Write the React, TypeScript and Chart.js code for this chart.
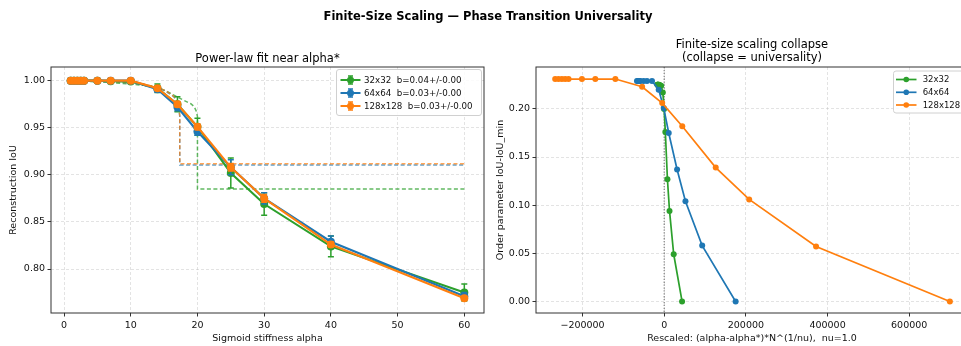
import React, { useEffect, useRef } from "react";
import { Chart, registerables } from "chart.js";
Chart.register(...registerables);

const FONT = '"DejaVu Sans", "Liberation Sans", sans-serif';

// ---------------- data ----------------
const sizeLabels = ["32x32", "64x64", "128x128"];
const fitLabels = ["32x32  b=0.04+/-0.00", "64x64  b=0.03+/-0.00", "128x128  b=0.03+/-0.00"];
const seriesColors = ["#2ca02c", "#1f77b4", "#ff7f0e"];
const fitColors = ["rgba(44,160,44,0.75)", "rgba(31,119,180,0.7)", "rgba(255,127,14,0.7)"];

const alphaValues = [1, 1.5, 2, 2.5, 3, 5, 7, 10, 14, 17, 20, 25, 30, 40, 60];
const iou32 = [1.0, 1.0, 1.0, 1.0, 1.0, 1.0, 0.9995, 0.999, 0.992, 0.975, 0.951, 0.902, 0.869, 0.824, 0.775];
const iou64 = [1.0, 1.0, 1.0, 1.0, 1.0, 1.0, 1.0, 1.0, 0.991, 0.972, 0.946, 0.908, 0.875, 0.829, 0.771];
const iou128 = [1.0, 1.0, 1.0, 1.0, 1.0, 1.0, 1.0, 1.0, 0.992, 0.975, 0.951, 0.908, 0.875, 0.826, 0.769];
const err32 = [0, 0, 0, 0, 0, 0, 0, 0.001, 0.0045, 0.008, 0.009, 0.016, 0.012, 0.011, 0.009];
const err64 = [0, 0, 0, 0, 0, 0, 0, 0, 0.003, 0.004, 0.004, 0.008, 0.006, 0.006, 0.004];
const err128 = [0, 0, 0, 0, 0, 0, 0, 0, 0.002, 0.003, 0.003, 0.004, 0.004, 0.003, 0.002];

// dashed power-law fit curves
const fit32X = [1, 4, 7, 10, 12, 14, 15, 16, 17, 18, 19, 19.5, 19.8, 20, 20, 60];
const fit32Y = [0.9995, 0.999, 0.998, 0.9965, 0.995, 0.9926, 0.99, 0.9865, 0.9825, 0.979, 0.9755, 0.9725, 0.968, 0.962, 0.885, 0.885];
const fit64X = [1, 5, 8, 10, 12, 14, 15, 16, 16.5, 17, 17.2, 17.35, 17.35, 60];
const fit64Y = [0.9998, 0.9993, 0.9985, 0.9975, 0.996, 0.9925, 0.9895, 0.9855, 0.9825, 0.977, 0.971, 0.962, 0.9104, 0.9104];
const fit128X = [1, 5, 8, 10, 12, 14, 15, 16, 16.5, 17, 17.2, 17.35, 17.35, 60];
const fit128Y = [1.0, 0.9995, 0.9987, 0.9978, 0.9962, 0.9928, 0.99, 0.986, 0.983, 0.978, 0.972, 0.963, 0.9118, 0.9118];

// collapse plot: rescaled x and order parameter
const rescaled32 = [-16690, -16180, -15670, -15155, -14640, -12595, -10545, -7475, -3380, -307, 2765, 7885, 13005, 23245, 43725];
const rescaled64 = [-66765, -64717, -62669, -60621, -58573, -50381, -42189, -29901, -13517, -1229, 11059, 31539, 52019, 92979, 174899];
const rescaled128 = [-267060, -258870, -250680, -242490, -234300, -201520, -168760, -119600, -54070, -4915, 44237, 126160, 208080, 371920, 699600];
const order32 = [0.225, 0.225, 0.225, 0.225, 0.225, 0.225, 0.2245, 0.224, 0.217, 0.2, 0.176, 0.127, 0.094, 0.049, 0];
const order64 = [0.229, 0.229, 0.229, 0.229, 0.229, 0.229, 0.229, 0.229, 0.22, 0.201, 0.175, 0.137, 0.104, 0.058, 0];
const order128 = [0.231, 0.231, 0.231, 0.231, 0.231, 0.231, 0.231, 0.231, 0.223, 0.206, 0.182, 0.139, 0.106, 0.057, 0];

const leftXTicks = [0, 10, 20, 30, 40, 50, 60];
const leftYTicks = [0.8, 0.85, 0.9, 0.95, 1.0];
const rightXTicks = [-200000, 0, 200000, 400000, 600000];
const rightYTicks = [0, 0.05, 0.1, 0.15, 0.2];

// ---------------- helpers ----------------
const pts = (xs: number[], ys: number[]) => xs.map((x, i) => ({ x, y: ys[i] }));

const errorBarPlugin = {
  id: "errorBars",
  beforeDatasetDraw(chart: any, args: any) {
    const ds: any = chart.data.datasets[args.index];
    if (!ds.errorValues) return;
    const ys = chart.scales.y;
    const ctx = chart.ctx;
    ctx.save();
    ctx.strokeStyle = ds.borderColor;
    ctx.lineWidth = 1.5;
    args.meta.data.forEach((el: any, i: number) => {
      const e = ds.errorValues[i];
      if (!e) return;
      const v = ds.data[i].y;
      const x = el.x;
      const y1 = ys.getPixelForValue(v - e);
      const y2 = ys.getPixelForValue(v + e);
      ctx.beginPath();
      ctx.moveTo(x, y1);
      ctx.lineTo(x, y2);
      ctx.moveTo(x - 3, y1);
      ctx.lineTo(x + 3, y1);
      ctx.moveTo(x - 3, y2);
      ctx.lineTo(x + 3, y2);
      ctx.stroke();
    });
    ctx.restore();
  },
};

const framePlugin = {
  id: "frame",
  afterDatasetsDraw(chart: any) {
    const { ctx, chartArea: a } = chart;
    ctx.save();
    ctx.strokeStyle = "#333";
    ctx.lineWidth = 1;
    ctx.strokeRect(a.left, a.top, a.right - a.left, a.bottom - a.top);
    ctx.restore();
  },
};

const zeroLinePlugin = {
  id: "zeroLine",
  beforeDatasetsDraw(chart: any) {
    const { ctx, chartArea: a } = chart;
    const x = chart.scales.x.getPixelForValue(0);
    ctx.save();
    ctx.strokeStyle = "#808080";
    ctx.lineWidth = 1.2;
    ctx.setLineDash([1.3, 1.6]);
    ctx.beginPath();
    ctx.moveTo(x, a.top);
    ctx.lineTo(x, a.bottom);
    ctx.stroke();
    ctx.restore();
  },
};

function makeLegend(cfg: any) {
  return {
    id: "boxLegend",
    afterDraw(chart: any) {
      const ctx = chart.ctx;
      ctx.save();
      const { left, top, right, bottom } = cfg.box;
      const r = 2.5;
      ctx.beginPath();
      ctx.moveTo(left + r, top);
      ctx.lineTo(right - r, top);
      ctx.quadraticCurveTo(right, top, right, top + r);
      ctx.lineTo(right, bottom - r);
      ctx.quadraticCurveTo(right, bottom, right - r, bottom);
      ctx.lineTo(left + r, bottom);
      ctx.quadraticCurveTo(left, bottom, left, bottom - r);
      ctx.lineTo(left, top + r);
      ctx.quadraticCurveTo(left, top, left + r, top);
      ctx.closePath();
      ctx.fillStyle = "rgba(255,255,255,0.85)";
      ctx.fill();
      ctx.strokeStyle = "#d0d0d0";
      ctx.lineWidth = 1;
      ctx.stroke();
      ctx.font = `${cfg.fontSize}px ${FONT}`;
      ctx.textBaseline = "middle";
      cfg.labels.forEach((label: string, i: number) => {
        const y = cfg.rowY[i];
        const color = cfg.colors[i];
        const mid = (cfg.hx0 + cfg.hx1) / 2;
        ctx.strokeStyle = color;
        ctx.lineWidth = cfg.lineWidth;
        ctx.beginPath();
        ctx.moveTo(cfg.hx0, y);
        ctx.lineTo(cfg.hx1, y);
        ctx.stroke();
        if (cfg.errorBars) {
          ctx.lineWidth = 1.5;
          ctx.beginPath();
          ctx.moveTo(mid, y - 4);
          ctx.lineTo(mid, y + 4);
          ctx.moveTo(mid - 2.5, y - 4);
          ctx.lineTo(mid + 2.5, y - 4);
          ctx.moveTo(mid - 2.5, y + 4);
          ctx.lineTo(mid + 2.5, y + 4);
          ctx.stroke();
        }
        ctx.fillStyle = color;
        ctx.beginPath();
        ctx.arc(mid, y, cfg.radius, 0, Math.PI * 2);
        ctx.fill();
        ctx.fillStyle = "#111";
        ctx.fillText(label, cfg.textX, y + 0.5);
      });
      ctx.restore();
    },
  };
}

function axisCommon(ticksArr: number[], fmt: (v: number) => string, titleText: string, isX: boolean, fixedSize: number, titlePad: any) {
  return {
    type: "linear",
    afterBuildTicks: (s: any) => {
      s.ticks = ticksArr.map((v) => ({ value: v }));
    },
    afterFit: (s: any) => {
      if (isX) s.height = fixedSize;
      else s.width = fixedSize;
    },
    grid: {
      color: "rgba(176,176,176,0.45)",
      lineWidth: 0.8,
      tickColor: "#333",
      tickLength: 3.5,
      tickWidth: 1,
      drawTicks: true,
    },
    border: { display: false, dash: [3, 2] },
    ticks: {
      font: { size: 9.5, family: FONT },
      color: "#111",
      padding: isX ? 3 : 2.5,
      maxRotation: 0,
      autoSkip: false,
      callback: (v: any) => fmt(Number(v)),
    },
    title: {
      display: true,
      text: titleText,
      font: { size: 9.5, family: FONT },
      color: "#111",
      padding: titlePad,
    },
  };
}

function leftConfig(): any {
  const fits = [
    [fit32X, fit32Y],
    [fit64X, fit64Y],
    [fit128X, fit128Y],
  ];
  const ious = [iou32, iou64, iou128];
  const errs = [err32, err64, err128];
  const datasets: any[] = [];
  fits.forEach((f, i) => {
    datasets.push({
      data: pts(f[0], f[1]),
      borderColor: fitColors[i],
      borderWidth: 1.5,
      borderDash: [4, 2.5],
      pointRadius: 0,
      tension: 0,
      fill: false,
      order: 10 - i,
    });
  });
  ious.forEach((iou, i) => {
    datasets.push({
      data: pts(alphaValues, iou),
      errorValues: errs[i],
      borderColor: seriesColors[i],
      backgroundColor: seriesColors[i],
      borderWidth: 2.1,
      pointRadius: 4,
      pointBorderWidth: 0,
      pointBackgroundColor: seriesColors[i],
      tension: 0,
      fill: false,
      order: 3 - i,
    });
  });
  return {
    type: "line",
    data: { datasets },
    options: {
      animation: false,
      responsive: false,
      maintainAspectRatio: false,
      events: [],
      layout: { padding: { top: 67, right: 6, left: 0, bottom: 0 } },
      plugins: { legend: { display: false }, tooltip: { enabled: false }, title: { display: false } },
      scales: {
        x: { ...axisCommon(leftXTicks, (v) => String(v), "Sigmoid stiffness alpha", true, 33, { top: 0, bottom: 2 }), min: -1.95, max: 62.95 },
        y: { ...axisCommon(leftYTicks, (v) => v.toFixed(2), "Reconstruction IoU", false, 51, { top: 7.6, bottom: 0 }), min: 0.7533, max: 1.0145 },
      },
    },
    plugins: [
      errorBarPlugin,
      framePlugin,
      makeLegend({
        box: { left: 336.5, top: 69.5, right: 481.5, bottom: 115.5 },
        labels: fitLabels,
        colors: seriesColors,
        rowY: [80, 93, 106],
        hx0: 340.5,
        hx1: 360.5,
        textX: 364,
        fontSize: 8.7,
        lineWidth: 2,
        radius: 3.5,
        errorBars: true,
      }),
    ],
  };
}

function rightConfig(): any {
  const xs = [rescaled32, rescaled64, rescaled128];
  const ys = [order32, order64, order128];
  const datasets = xs.map((x, i) => ({
    data: pts(x, ys[i]),
    borderColor: seriesColors[i],
    backgroundColor: seriesColors[i],
    borderWidth: 1.7,
    pointRadius: 3,
    pointBorderWidth: 0,
    pointBackgroundColor: seriesColors[i],
    tension: 0,
    fill: false,
    order: 3 - i,
  }));
  const fmtX = (v: number) => (v < 0 ? "\u2212" + Math.abs(v) : String(v));
  return {
    type: "line",
    data: { datasets },
    options: {
      animation: false,
      responsive: false,
      maintainAspectRatio: false,
      events: [],
      layout: { padding: { top: 67, right: 12, left: 0, bottom: 0 } },
      plugins: { legend: { display: false }, tooltip: { enabled: false }, title: { display: false } },
      scales: {
        x: { ...axisCommon(rightXTicks, fmtX, "Rescaled: (alpha-alpha*)*N^(1/nu),  nu=1.0", true, 33, { top: 0, bottom: 2 }), min: -314000, max: 744000 },
        y: { ...axisCommon(rightYTicks, (v) => v.toFixed(2), "Order parameter IoU-IoU_min", false, 46, { top: 5, bottom: 0 }), min: -0.012, max: 0.2435 },
      },
    },
    plugins: [
      zeroLinePlugin,
      framePlugin,
      makeLegend({
        box: { left: 403.5, top: 71, right: 476, bottom: 113 },
        labels: sizeLabels,
        colors: seriesColors,
        rowY: [79.5, 92.3, 105],
        hx0: 406,
        hx1: 426.5,
        textX: 432.7,
        fontSize: 8.5,
        lineWidth: 1.7,
        radius: 2.8,
        errorBars: false,
      }),
    ],
  };
}

export default function App() {
  const leftRef = useRef<HTMLCanvasElement>(null);
  const rightRef = useRef<HTMLCanvasElement>(null);
  useEffect(() => {
    const c1 = new Chart(leftRef.current as HTMLCanvasElement, leftConfig());
    const c2 = new Chart(rightRef.current as HTMLCanvasElement, rightConfig());
    return () => {
      c1.destroy();
      c2.destroy();
    };
  }, []);
  return (
    <div
      style={{
        position: "fixed",
        left: 0,
        top: 0,
        width: 961,
        height: 346,
        overflow: "hidden",
        background: "#fff",
        fontFamily: FONT,
        color: "#000",
      }}
    >
      <canvas ref={leftRef} width={490} height={346} style={{ position: "absolute", left: 0, top: 0 }} />
      <canvas ref={rightRef} width={490} height={346} style={{ position: "absolute", left: 490, top: 0 }} />
      <div
        style={{
          position: "absolute",
          left: 0,
          width: 976,
          top: 9,
          textAlign: "center",
          fontWeight: "bold",
          fontSize: 11.5,
          lineHeight: "14px",
          whiteSpace: "nowrap",
        }}
      >
        Finite-Size Scaling — Phase Transition Universality
      </div>
      <div
        style={{
          position: "absolute",
          left: 51,
          width: 433,
          top: 51,
          textAlign: "center",
          fontSize: 11.5,
          lineHeight: "14px",
          whiteSpace: "nowrap",
        }}
      >
        Power-law fit near alpha*
      </div>
      <div
        style={{
          position: "absolute",
          left: 536,
          width: 432,
          top: 38,
          textAlign: "center",
          fontSize: 11.5,
          lineHeight: "13px",
          whiteSpace: "nowrap",
        }}
      >
        Finite-size scaling collapse
        <br />
        (collapse = universality)
      </div>
    </div>
  );
}
